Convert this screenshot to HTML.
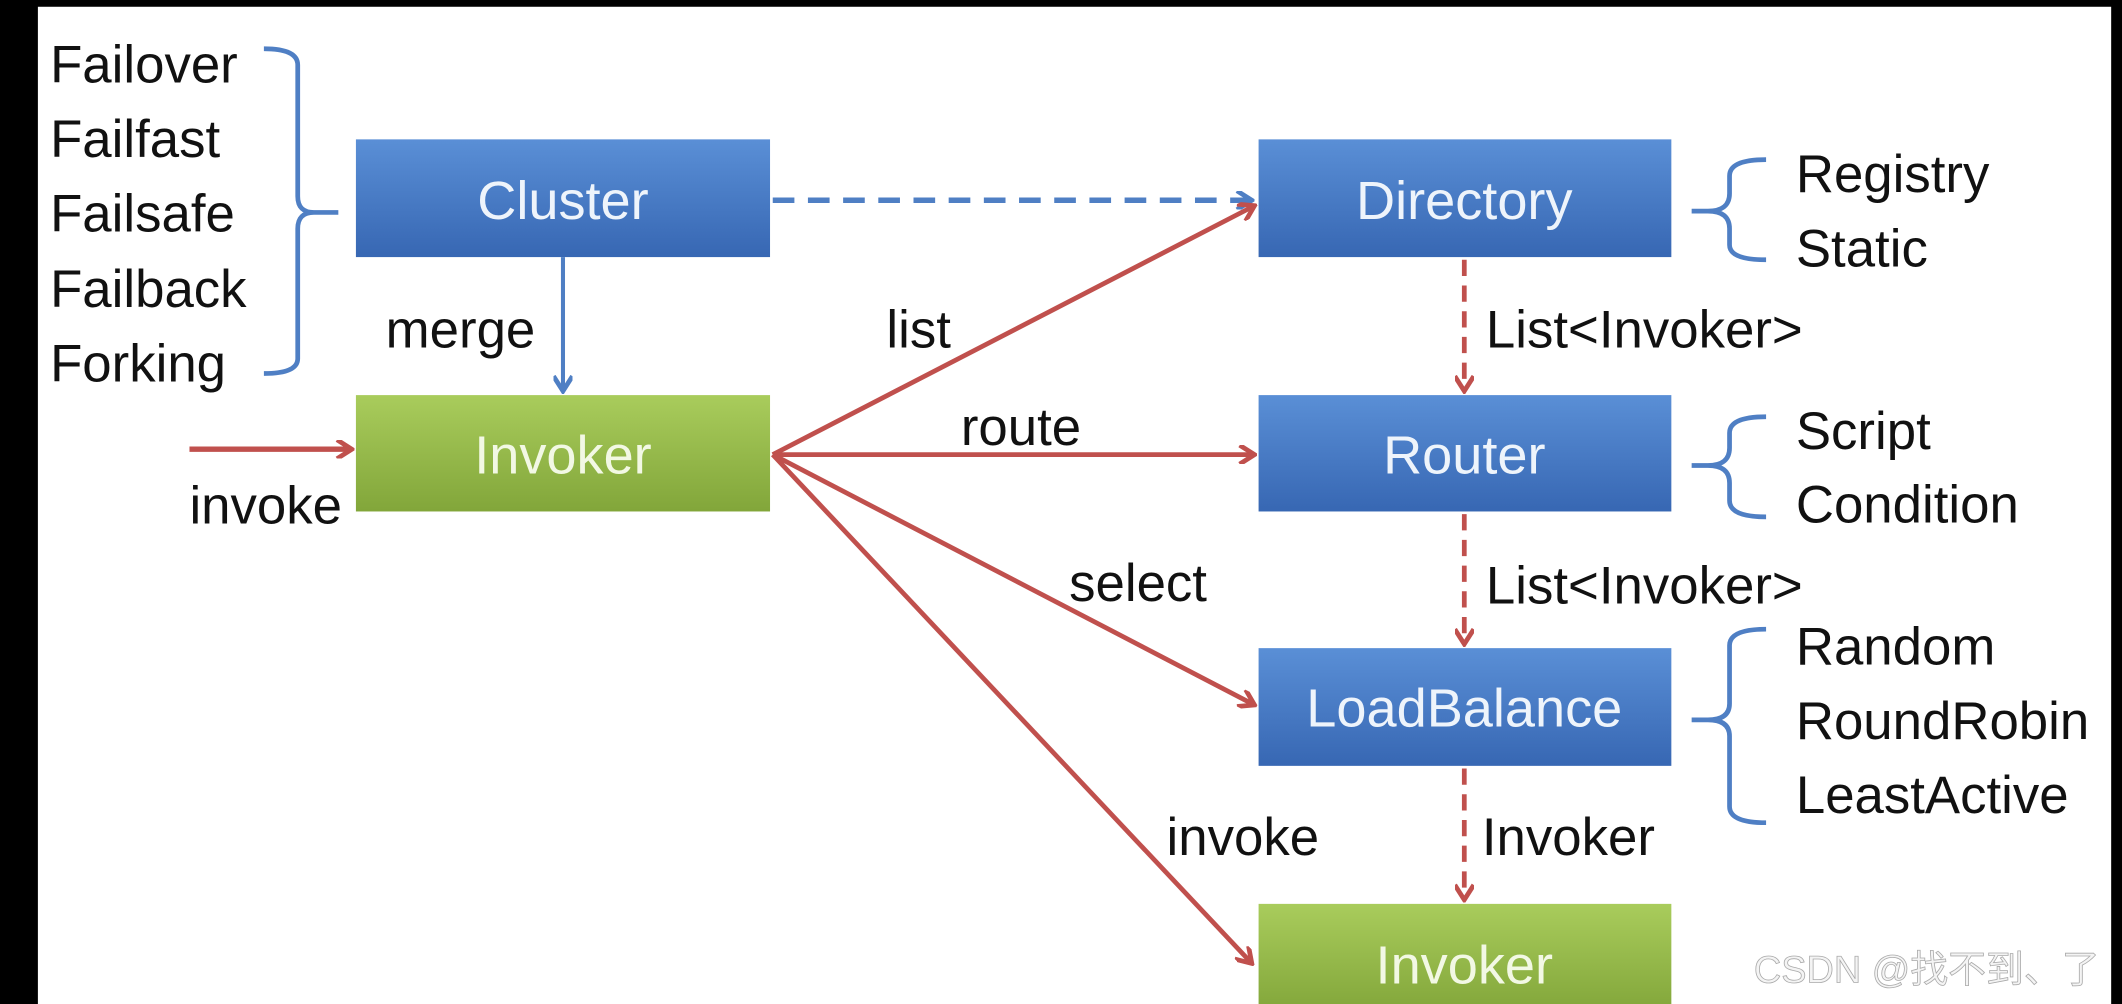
<!DOCTYPE html>
<html><head><meta charset="utf-8"><style>
html,body{margin:0;padding:0;background:#000;}
svg{display:block;}
text{font-family:"Liberation Sans",sans-serif;}
</style></head><body>
<svg width="2122" height="1004" viewBox="0 0 1568 742" preserveAspectRatio="none" xmlns="http://www.w3.org/2000/svg">
<defs>
<linearGradient id="bl" x1="0" y1="0" x2="0" y2="1"><stop offset="0" stop-color="#5a8fd6"/><stop offset="1" stop-color="#3767b3"/></linearGradient>
<linearGradient id="gr" x1="0" y1="0" x2="0" y2="1"><stop offset="0" stop-color="#a9cc5c"/><stop offset="1" stop-color="#82a63a"/></linearGradient>
<marker id="ar" markerWidth="14" markerHeight="14" refX="12" refY="7" orient="auto" markerUnits="userSpaceOnUse"><path d="M1,0 L12,7 L1,14" fill="none" stroke="#c0504d" stroke-width="3.5"/></marker>
<marker id="ab" markerWidth="14" markerHeight="14" refX="12" refY="7" orient="auto" markerUnits="userSpaceOnUse"><path d="M1,0 L12,7 L1,14" fill="none" stroke="#4f7fc4" stroke-width="3.5"/></marker>
</defs>
<rect x="0" y="0" width="1568" height="742" fill="#000"/>
<rect x="28" y="5" width="1532" height="737" fill="#fff"/>
<rect x="263" y="103" width="306" height="87" fill="url(#bl)"/>
<rect x="930" y="103" width="305" height="87" fill="url(#bl)"/>
<rect x="263" y="292" width="306" height="86" fill="url(#gr)"/>
<rect x="930" y="292" width="305" height="86" fill="url(#bl)"/>
<rect x="930" y="479" width="305" height="87" fill="url(#bl)"/>
<rect x="930" y="668" width="305" height="80" fill="url(#gr)"/>
<g fill="#eef4fb" font-size="40" text-anchor="middle">
<text x="416" y="162">Cluster</text>
<text x="1082" y="162">Directory</text>
<text x="416" y="350" fill="#f2f8e4">Invoker</text>
<text x="1082" y="350">Router</text>
<text x="1082" y="537">LoadBalance</text>
<text x="1082" y="727" fill="#f2f8e4">Invoker</text>
</g>
<line x1="571" y1="148" x2="925" y2="148" stroke="#4f7fc4" stroke-width="4" stroke-dasharray="16,10" marker-end="url(#ab)"/>
<line x1="416" y1="190" x2="416" y2="289" stroke="#4f7fc4" stroke-width="3" marker-end="url(#ab)"/>
<line x1="140" y1="332" x2="260" y2="332" stroke="#c0504d" stroke-width="4" marker-end="url(#ar)"/>
<g stroke="#c0504d" stroke-width="3.5" fill="none">
<line x1="571" y1="336" x2="927" y2="152" marker-end="url(#ar)"/>
<line x1="571" y1="336" x2="927" y2="336" marker-end="url(#ar)"/>
<line x1="571" y1="336" x2="927" y2="521" marker-end="url(#ar)"/>
<line x1="571" y1="336" x2="925" y2="712" marker-end="url(#ar)"/>
<line x1="1082" y1="192" x2="1082" y2="289" stroke-dasharray="12,7" marker-end="url(#ar)"/>
<line x1="1082" y1="380" x2="1082" y2="476" stroke-dasharray="12,7" marker-end="url(#ar)"/>
<line x1="1082" y1="568" x2="1082" y2="665" stroke-dasharray="12,7" marker-end="url(#ar)"/>
</g>
<g stroke="#4f7fc4" stroke-width="3.5" fill="none">
<path d="M195,36 Q220,36 220,48 L220,145 Q220,157 232,157 L250,157 M232,157 Q220,157 220,169 L220,265 Q220,276 195,276"/>
<path d="M1305,118 Q1278,118 1278,130 L1278,143 Q1278,156 1262,156 L1250,156 M1262,156 Q1278,156 1278,169 L1278,181 Q1278,192 1305,192"/>
<path d="M1305,308 Q1278,308 1278,320 L1278,331 Q1278,344 1262,344 L1250,344 M1262,344 Q1278,344 1278,357 L1278,370 Q1278,382 1305,382"/>
<path d="M1305,465 Q1278,465 1278,477 L1278,520 Q1278,532 1262,532 L1250,532 M1262,532 Q1278,532 1278,544 L1278,596 Q1278,608 1305,608"/>
</g>
<g fill="#111" font-size="39">
<text x="37" y="61">Failover</text>
<text x="37" y="116">Failfast</text>
<text x="37" y="171">Failsafe</text>
<text x="37" y="227">Failback</text>
<text x="37" y="282">Forking</text>
<text x="1327" y="142">Registry</text>
<text x="1327" y="197">Static</text>
<text x="1327" y="332">Script</text>
<text x="1327" y="386">Condition</text>
<text x="1327" y="491">Random</text>
<text x="1327" y="546">RoundRobin</text>
<text x="1327" y="601">LeastActive</text>
<text x="285" y="257">merge</text>
<text x="655" y="257">list</text>
<text x="710" y="329">route</text>
<text x="140" y="387">invoke</text>
<text x="790" y="444">select</text>
<text x="862" y="632">invoke</text>
<text x="1098" y="257">List&lt;Invoker&gt;</text>
<text x="1098" y="446">List&lt;Invoker&gt;</text>
<text x="1095" y="632">Invoker</text>
</g>
<text x="1296" y="726" font-size="28" fill="#f4f4f4" stroke="#aaa" stroke-width="0.6" style="font-family:'Liberation Sans','Noto Sans CJK SC',sans-serif">CSDN @找不到、了</text>
</svg>
</body></html>
